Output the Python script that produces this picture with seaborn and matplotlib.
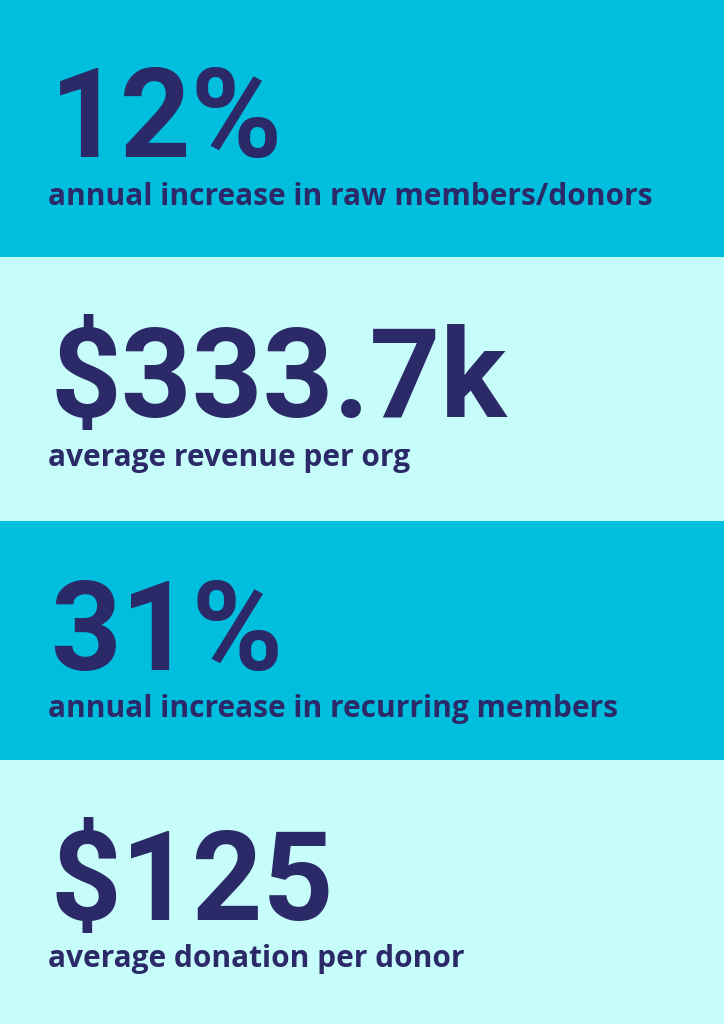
import matplotlib
matplotlib.use("Agg")
import matplotlib.pyplot as plt
import seaborn as sns

# --- Data ---
big_numbers = ["12%", "$333.7k", "31%", "$125"]
captions = [
    "annual increase in raw members/donors",
    "average revenue per org",
    "annual increase in recurring members",
    "average donation per donor",
]
band_colors = ["#00BEDE", "#C6FCF9", "#00BEDE", "#C6FCF9"]

# --- Layout (pixels, from top) ---
W, H = 724, 1024
band_edges = [0, 257, 521, 760, 1024]
number_baseline = [157, 417, 670, 920]
caption_baseline = [205, 466, 717, 967]
TEXT = "#2B2968"
LEFT = 50

sns.set_theme(style="white")

fig = plt.figure(figsize=(W / 100, H / 100), dpi=100)
ax = fig.add_axes([0, 0, 1, 1])
ax.set_xlim(0, W)
ax.set_ylim(H, 0)
ax.axis("off")

# background bands
tops = band_edges[:-1]
heights = [b - a for a, b in zip(band_edges[:-1], band_edges[1:])]
ax.barh(tops, [W] * 4, height=heights, left=0, align="edge",
        color=band_colors, linewidth=0)

# big number + caption in each band
for num, cap, nb, cb in zip(big_numbers, captions, number_baseline, caption_baseline):
    ax.text(LEFT, nb, num, fontsize=89, fontweight="bold", family="Roboto",
            color=TEXT, va="baseline", ha="left")
    ax.text(LEFT - 2, cb, cap, fontsize=21.5, fontweight="bold", family="Open Sans",
            color=TEXT, va="baseline", ha="left")

fig.savefig("out.png", dpi=100)
